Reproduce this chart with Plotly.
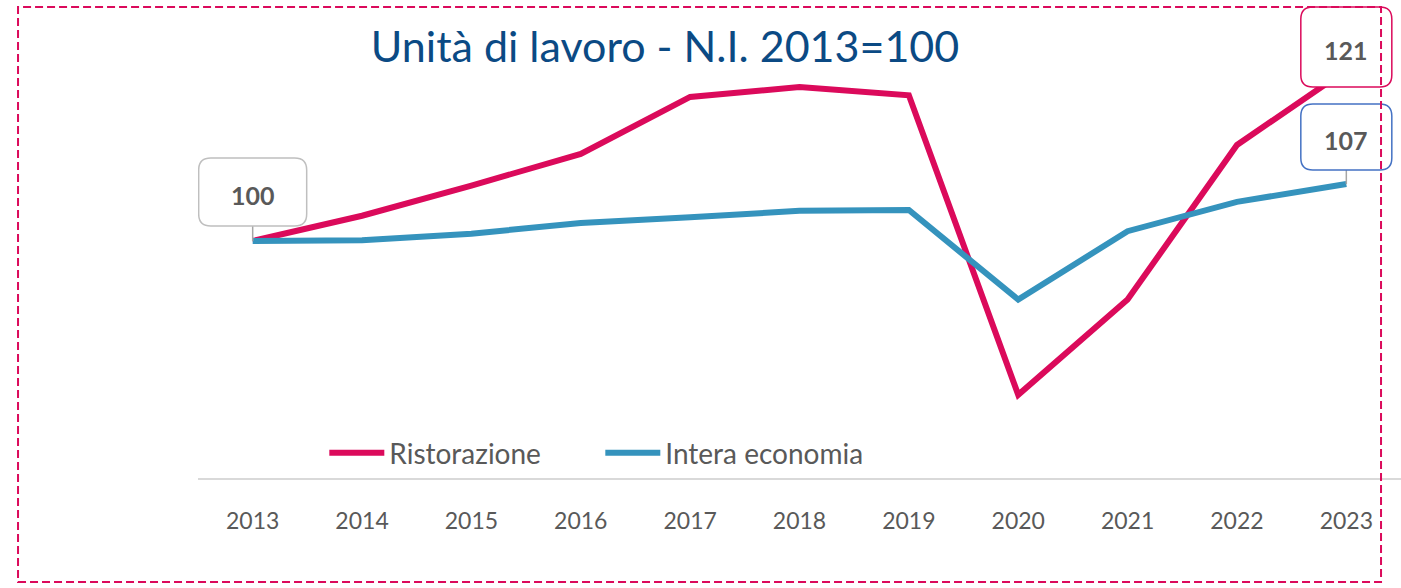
import plotly.graph_objects as go

years = [2013, 2014, 2015, 2016, 2017, 2018, 2019, 2020, 2021, 2022, 2023]
ristorazione = [100, 103.1, 106.8, 110.7, 117.7, 118.9, 117.9, 81.1, 92.8, 111.8, 121]
intera_economia = [100, 100.1, 100.9, 102.2, 102.9, 103.7, 103.8, 92.8, 101.2, 104.8, 107]
series_names = ["Ristorazione", "Intera economia"]
title_text = "Unità di lavoro - N.I. 2013=100"

RED = "#DB0A5B"
BLUE = "#3593BD"
GRAY_TXT = "#595959"

fig = go.Figure()
fig.add_trace(go.Scatter(x=years, y=ristorazione, mode="lines", name=series_names[0],
                         line=dict(color=RED, width=6)))
fig.add_trace(go.Scatter(x=years, y=intera_economia, mode="lines", name=series_names[1],
                         line=dict(color=BLUE, width=6)))


def rrect(w, h, r, y0):
    # rounded rectangle path in pixel units, centered horizontally, bottom at y0 (up positive)
    x0, x1 = -w / 2, w / 2
    y1 = y0 + h
    return (f"M {x0 + r},{y0} L {x1 - r},{y0} Q {x1},{y0} {x1},{y0 + r} "
            f"L {x1},{y1 - r} Q {x1},{y1} {x1 - r},{y1} L {x0 + r},{y1} "
            f"Q {x0},{y1} {x0},{y1 - r} L {x0},{y0 + r} Q {x0},{y0} {x0 + r},{y0} Z")


labels = [
    # (x, y, border color, width, height, bottom offset px, leader)
    (years[0], ristorazione[0], "#BFBFBF", 108, 68, 15, True),
    (years[-1], intera_economia[-1], "#4472C4", 91, 66, 14, True),
    (years[-1], ristorazione[-1], RED, 91, 80, -17, False),
]
for x, y, bc, w, h, off, leader in labels:
    if leader:
        fig.add_shape(type="line", xref="x", yref="y", xsizemode="pixel", ysizemode="pixel",
                      xanchor=x, yanchor=y, x0=0, x1=0, y0=0, y1=off,
                      line=dict(color="#A6A6A6", width=1.5))
    fig.add_shape(type="path", xref="x", yref="y", xsizemode="pixel", ysizemode="pixel",
                  xanchor=x, yanchor=y, path=rrect(w, h, 12, off),
                  line=dict(color=bc, width=1.5), fillcolor="white", layer="above")
    fig.add_annotation(x=x, y=y, text=f"<b>{round(y)}</b>", showarrow=False,
                       yshift=off + h / 2 - 3,
                       font=dict(family="Lato", size=25, color=GRAY_TXT))

# dashed outer frame
fig.add_shape(type="rect", xref="paper", yref="paper",
              x0=-0.1496, x1=0.9834, y0=-0.2199, y1=0.9958,
              line=dict(color=RED, width=2, dash="8px,4px"), fillcolor="rgba(0,0,0,0)")

fig.update_layout(
    width=1401, height=588,
    margin=dict(l=198, r=0, t=5, b=110),
    paper_bgcolor="white", plot_bgcolor="white",
    title=dict(text=title_text, x=0.4747, xanchor="center", y=0.92, yanchor="middle",
               font=dict(family="Lato", size=43, color="#0B4A84")),
    showlegend=True,
    legend=dict(orientation="h", x=0.105, xanchor="left", y=0.053, yanchor="middle",
                font=dict(family="Lato", size=28, color=GRAY_TXT),
                bgcolor="rgba(0,0,0,0)", entrywidth=206, entrywidthmode="pixels",
                itemwidth=55),
    xaxis=dict(range=[2012.5, 2023.5], tickvals=years, ticktext=[str(v) for v in years],
               showgrid=False, zeroline=False, showline=True, linecolor="#D9D9D9", linewidth=2,
               ticks="outside", ticklen=21, tickcolor="rgba(0,0,0,0)",
               tickfont=dict(family="Lato", size=23, color=GRAY_TXT)),
    yaxis=dict(range=[70.88, 128.99], showgrid=False, zeroline=False, showline=False,
               showticklabels=False, ticks=""),
)

fig.write_html("out.html", config={"displayModeBar": False},
               post_script="document.body.style.margin='0';document.body.style.overflow='hidden';")
